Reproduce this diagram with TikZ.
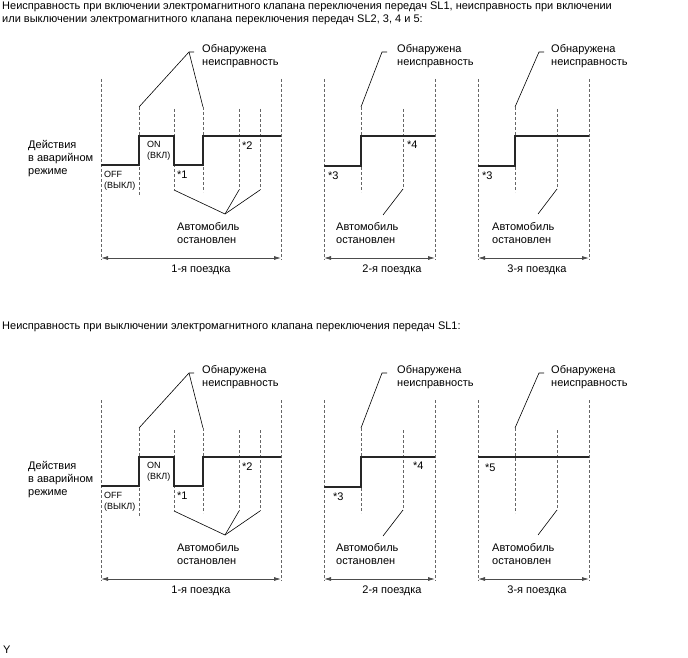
\documentclass[tikz,border=0pt]{standalone}
\usepackage{fontspec}
\setmainfont{Liberation Sans}
\usepackage{tikz}
\usetikzlibrary{calc,positioning,arrows.meta}

\begin{document}
\begin{tikzpicture}[x=1pt,y=-1pt,font=\fontsize{11}{13}\selectfont]
\tikzstyle{txt}=[inner sep=0pt, anchor=west, align=left]
\tikzstyle{sml}=[txt, font=\fontsize{9}{11}\selectfont]
\tikzstyle{gline}=[black!60, dash pattern=on 3pt off 2pt, line width=0.6pt]
\tikzstyle{sig}=[line width=1.5pt, black!85]
\tikzstyle{lead}=[line width=0.6pt]
\tikzstyle{dim}=[line width=0.8pt, black!70, {Latex[length=7pt,width=4pt]}-{Latex[length=7pt,width=4pt]}]
\useasboundingbox (0,0) rectangle (688,658);

\node[txt, anchor=north west] (ttl1) at (2,2) {Неисправность при включении электромагнитного клапана переключения передач SL1, неисправность при включении\\или выключении электромагнитного клапана переключения передач SL2, 3, 4 и 5:};
\node[txt] (ttl2) at (2,327) {Неисправность при выключении электромагнитного клапана переключения передач SL1:};
\node[txt] (yy) at (3,650) {Y};

\foreach \r/\dy in {a/0,b/321}{
\begin{scope}[yshift=-\dy pt]
\foreach \k/\x/\t/\b in {1/101/79/260, 2/139/107/195, 3/174/109/190, 4/203/107/192, 5/239/109/190, 6/260/109/190, 7/281/79/260, 8/324/79/260, 9/361/107/192, 10/403/109/189, 11/435/79/260, 12/478/79/260, 13/515/107/192, 14/557/109/189, 15/589/79/260}{
\coordinate (\r t\k) at (\x,\t);
\coordinate (\r b\k) at (\x,\b);
\draw[gline] (\r t\k) -- (\r b\k);
}
% signal, trips 1 and 2
\draw[sig] (101,165) -- (139,165) -- (139,136) -- (174,136) -- (174,165) -- (203,165) -- (203,136) -- (281,136);
\draw[sig] (324,166) -- (361,166) -- (361,136) -- (435,136);
\node[txt] (\r mode) at (28,159) {Действия\\в аварийном\\режиме};
\node[sml] (\r off) at (104,181) {OFF\\(ВЫКЛ)};
\node[sml] (\r on) at (147,150.5) {ON\\(ВКЛ)};
\node[txt] (\r s1) at (177,175) {*1};
\node[txt] (\r s2) at (242,146) {*2};
% malfunction found
\node[txt] (\r det1) at (202,56.5) {Обнаружена\\неисправность};
\node[txt] (\r det2) at (397,56.5) {Обнаружена\\неисправность};
\node[txt] (\r det3) at (551,56.5) {Обнаружена\\неисправность};
\coordinate (\r f1) at (189,52);
\coordinate (\r f2) at (382,52);
\coordinate (\r f3) at (539,52);
\draw[lead] ($(\r f1)+(5,0)$) -- (\r f1) -- (\r t2);
\draw[lead] (\r f1) -- (\r t4);
\draw[lead] ($(\r f2)+(5,0)$) -- (\r f2) -- (\r t9);
\draw[lead] ($(\r f3)+(5,0)$) -- (\r f3) -- (\r t13);
% vehicle stopped
\node[txt] (\r car1) at (177,233) {Автомобиль\\остановлен};
\node[txt] (\r car2) at (336,233) {Автомобиль\\остановлен};
\node[txt] (\r car3) at (492,233) {Автомобиль\\остановлен};
\coordinate (\r v1) at (225,214);
\coordinate (\r v2) at (383,215);
\coordinate (\r v3) at (538,214);
\draw[lead] (\r b3) -- (\r v1) -- (\r b5);
\draw[lead] (\r v1) -- (\r b6);
\draw[lead] (\r v2) -- (\r b10);
\draw[lead] (\r v3) -- (\r b14);
% trips
\draw[dim] ([yshift=2pt]\r b1) -- ([yshift=2pt]\r b7);
\draw[dim] ([yshift=2pt]\r b8) -- ([yshift=2pt]\r b11);
\draw[dim] ([yshift=2pt]\r b12) -- ([yshift=2pt]\r b15);
\node[inner sep=0pt] (\r trip1) at (201,270) {1-я поездка};
\node[inner sep=0pt] (\r trip2) at (392,270) {2-я поездка};
\node[inner sep=0pt] (\r trip3) at (537,270) {3-я поездка};
\end{scope}
}

\draw[sig] (478,166) -- (515,166) -- (515,136) -- (589,136);
\node[txt] (as3) at (328,176) {*3};
\node[txt] (as4) at (407,145) {*4};
\node[txt] (as5) at (482,176) {*3};

\draw[sig] (478,457) -- (589,457);
\node[txt] (bs3) at (333,497) {*3};
\node[txt] (bs4) at (413,466) {*4};
\node[txt] (bs5) at (485,468) {*5};
\end{tikzpicture}
\end{document}
